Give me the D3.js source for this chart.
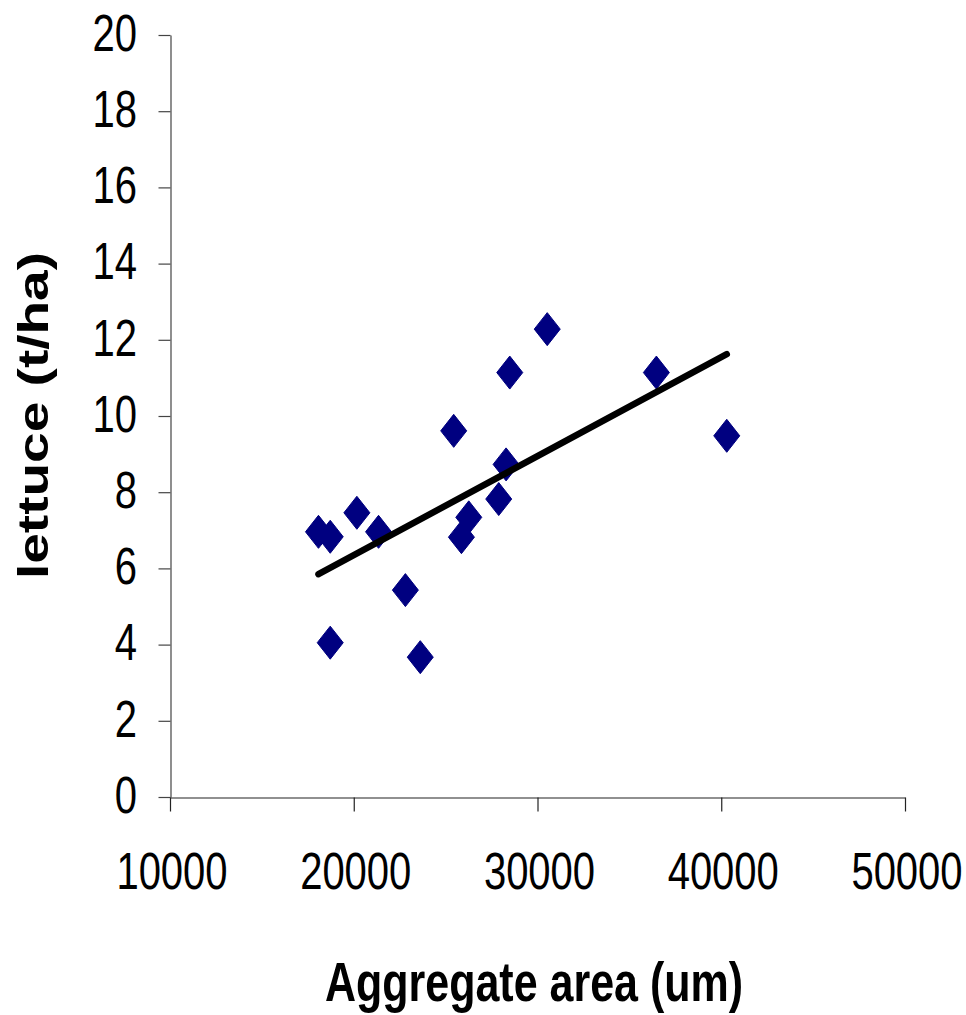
<!DOCTYPE html>
<html>
<head>
<meta charset="utf-8">
<script src="https://cdn.jsdelivr.net/npm/d3@7"></script>
<style>
body { margin: 0; background: #fff; }
svg { display: block; font-family: "Liberation Sans", Arial, sans-serif; }
</style>
</head>
<body>
<div id="chartArea"></div>
<script>
// aggregate area (um) vs lettuce yield (t/ha)
const aggArea = [18080, 18720, 20170, 21350, 18720, 22810, 23620, 25440,
                 26260, 25860, 27890, 28290, 28490, 30530, 36470, 40300];
const lettuce = [6.96, 6.83, 7.46, 6.96, 4.05, 5.43, 3.67, 9.61,
                 7.34, 6.82, 7.82, 8.73, 11.14, 12.28, 11.14, 9.48];
const xTicks = [10000, 20000, 30000, 40000, 50000];
const yTicks = [0, 2, 4, 6, 8, 10, 12, 14, 16, 18, 20];

function renderChart(){
const W = 966, H = 1015;
const stretch = 1.31; // text in the original is drawn tall and narrow

const svg = d3.select("#chartArea")
  .append("svg")
  .attr("width", W)
  .attr("height", H);

const x = d3.scaleLinear().domain([10000, 50000]).range([170, 905]);
const y = d3.scaleLinear().domain([0, 20]).range([797, 35]);

const points = aggArea.map((a, i) => ({ x: a, y: lettuce[i] }));

// y axis
svg.append("g")
  .attr("transform", "translate(170.5,0)")
  .call(d3.axisLeft(y).tickValues(yTicks).tickSize(12).tickSizeOuter(0).tickFormat(""))
  .call(g => g.selectAll("path, line").attr("stroke", "#444").attr("stroke-width", 1.2));

// x axis
svg.append("g")
  .attr("transform", "translate(0,797.5)")
  .call(d3.axisBottom(x).tickValues(xTicks).tickSize(14).tickSizeOuter(0).tickFormat(""))
  .call(g => g.selectAll("path, line").attr("stroke", "#222").attr("stroke-width", 1.2));

// tick labels
svg.selectAll(".ylab")
  .data(yTicks)
  .enter()
  .append("text")
  .attr("transform", d => `translate(137,${y(d) - 3}) scale(1,${stretch})`)
  .attr("text-anchor", "end")
  .attr("dy", "0.36em")
  .style("font-size", "40px")
  .text(d => d);

svg.selectAll(".xlab")
  .data(xTicks)
  .enter()
  .append("text")
  .attr("transform", d => `translate(${x(d) + 2},889) scale(1,${stretch})`)
  .attr("text-anchor", "middle")
  .style("font-size", "40px")
  .text(d => d);

// axis titles
svg.append("text")
  .attr("transform", `translate(534,1001) scale(1,1.27)`)
  .attr("text-anchor", "middle")
  .style("font-size", "43px")
  .style("font-weight", "bold")
  .text("Aggregate area (um)");

svg.append("text")
  .attr("transform", `translate(48,415.5) rotate(-90) scale(${stretch},1)`)
  .attr("text-anchor", "middle")
  .style("font-size", "42px")
  .style("font-weight", "bold")
  .text("lettuce (t/ha)");

// linear trend line (least squares)
const mx = d3.mean(points, d => d.x), my = d3.mean(points, d => d.y);
const slope = d3.sum(points, d => (d.x - mx) * (d.y - my)) / d3.sum(points, d => (d.x - mx) ** 2);
const x0 = d3.min(aggArea), x1 = d3.max(aggArea);
const trend = [[x0, my + slope * (x0 - mx)], [x1, my + slope * (x1 - mx)]];

// diamonds
const hw = 13, hh = 16.5;
svg.selectAll(".pt")
  .data(points)
  .enter()
  .append("path")
  .attr("d", d => {
    const cx = x(d.x), cy = y(d.y);
    return `M${cx},${cy - hh}L${cx + hw},${cy}L${cx},${cy + hh}L${cx - hw},${cy}Z`;
  })
  .attr("fill", "#000080")
  .attr("stroke", "#000080")
  .attr("stroke-width", 1)
  .attr("stroke-linejoin", "round");

svg.append("path")
  .datum(trend)
  .attr("d", d3.line().x(d => x(d[0])).y(d => y(d[1])))
  .attr("fill", "none")
  .attr("stroke", "#000")
  .attr("stroke-width", 6.5)
  .attr("stroke-linecap", "round");
}

renderChart();
</script>
</body>
</html>
